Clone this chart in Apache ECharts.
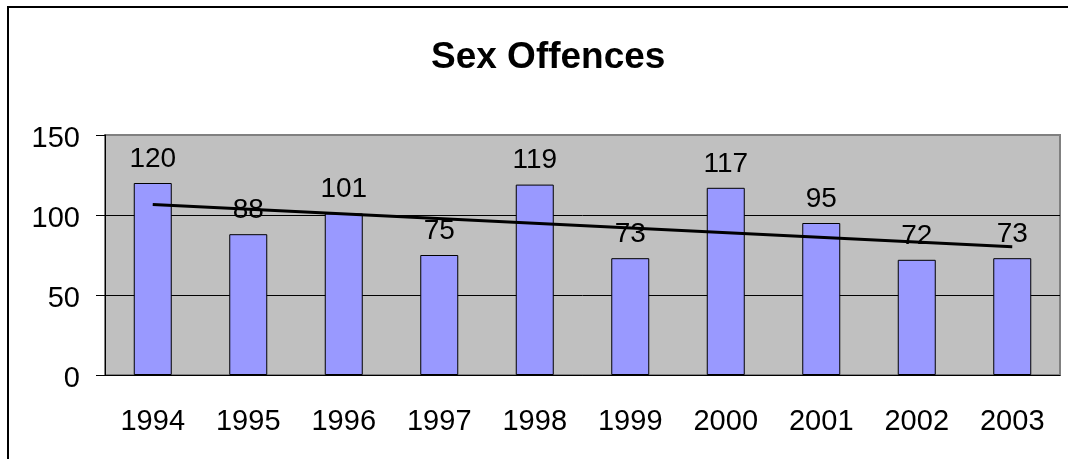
<!DOCTYPE html>
<html>
<head>
<meta charset="utf-8">
<style>
  html, body { margin: 0; padding: 0; background: #fff; }
  #chart { width: 1068px; height: 459px; }
</style>
<script src="https://cdn.jsdelivr.net/npm/echarts@6/dist/echarts.min.js"></script>
</head>
<body>
<div id="chart"></div>
<script>
const years = ['1994', '1995', '1996', '1997', '1998', '1999', '2000', '2001', '2002', '2003'];
const offences = [120, 88, 101, 75, 119, 73, 117, 95, 72, 73];
// trend line ends
const trendYears = ['1994', '2003'];
const trendValues = [106.5, 80.1];

const font = "'Liberation Sans', Arial, sans-serif";

const myChart = echarts.init(document.getElementById('chart'));
const option = {
  animation: false,
  backgroundColor: '#fff',
  title: {
    text: 'Sex Offences',
    left: 426,
    top: 34,
    textStyle: {
      fontFamily: font,
      fontSize: 37,
      fontWeight: 'bold',
      color: '#000'
    }
  },
  // outer frame of the chart area
  graphic: [{
    type: 'rect',
    shape: { x: 8, y: 7, width: 1200, height: 600 },
    style: { fill: 'none', stroke: '#000', lineWidth: 2 },
    silent: true
  }],
  grid: {
    left: 105,
    right: 8,
    top: 135,
    bottom: 84,
    show: true,
    backgroundColor: '#C0C0C0',
    borderColor: '#808080',
    borderWidth: 2
  },
  xAxis: {
    type: 'category',
    data: years,
    axisLine: { lineStyle: { color: '#000', width: 1 } },
    axisTick: { length: 12, lineStyle: { color: '#000' } },
    axisLabel: {
      margin: 32,
      fontFamily: font,
      fontSize: 29,
      color: '#000'
    }
  },
  yAxis: {
    type: 'value',
    min: 0,
    max: 150,
    interval: 50,
    axisLine: { show: true, lineStyle: { color: '#000', width: 1 } },
    axisTick: { show: true, length: 9, lineStyle: { color: '#000' } },
    axisLabel: {
      margin: 25,
      // labels sit a little below their ticks
      verticalAlign: 'top',
      lineHeight: 8,
      fontFamily: font,
      fontSize: 29,
      color: '#000'
    },
    splitLine: {
      lineStyle: { color: ['#000', '#000', '#000', '#808080'], width: 1 }
    }
  },
  series: [
    {
      name: 'Sex Offences',
      type: 'bar',
      data: offences,
      barWidth: 38,
      itemStyle: {
        color: '#9999FF',
        borderColor: '#000',
        borderWidth: 1
      },
      label: {
        show: true,
        position: 'top',
        distance: 10,
        fontFamily: font,
        fontSize: 28,
        color: '#000'
      }
    },
    {
      name: 'Trend',
      type: 'line',
      data: trendYears.map((y, i) => [y, trendValues[i]]),
      symbol: 'none',
      z: 3,
      lineStyle: { color: '#000', width: 3 }
    }
  ]
};
myChart.setOption(option);
</script>
</body>
</html>
